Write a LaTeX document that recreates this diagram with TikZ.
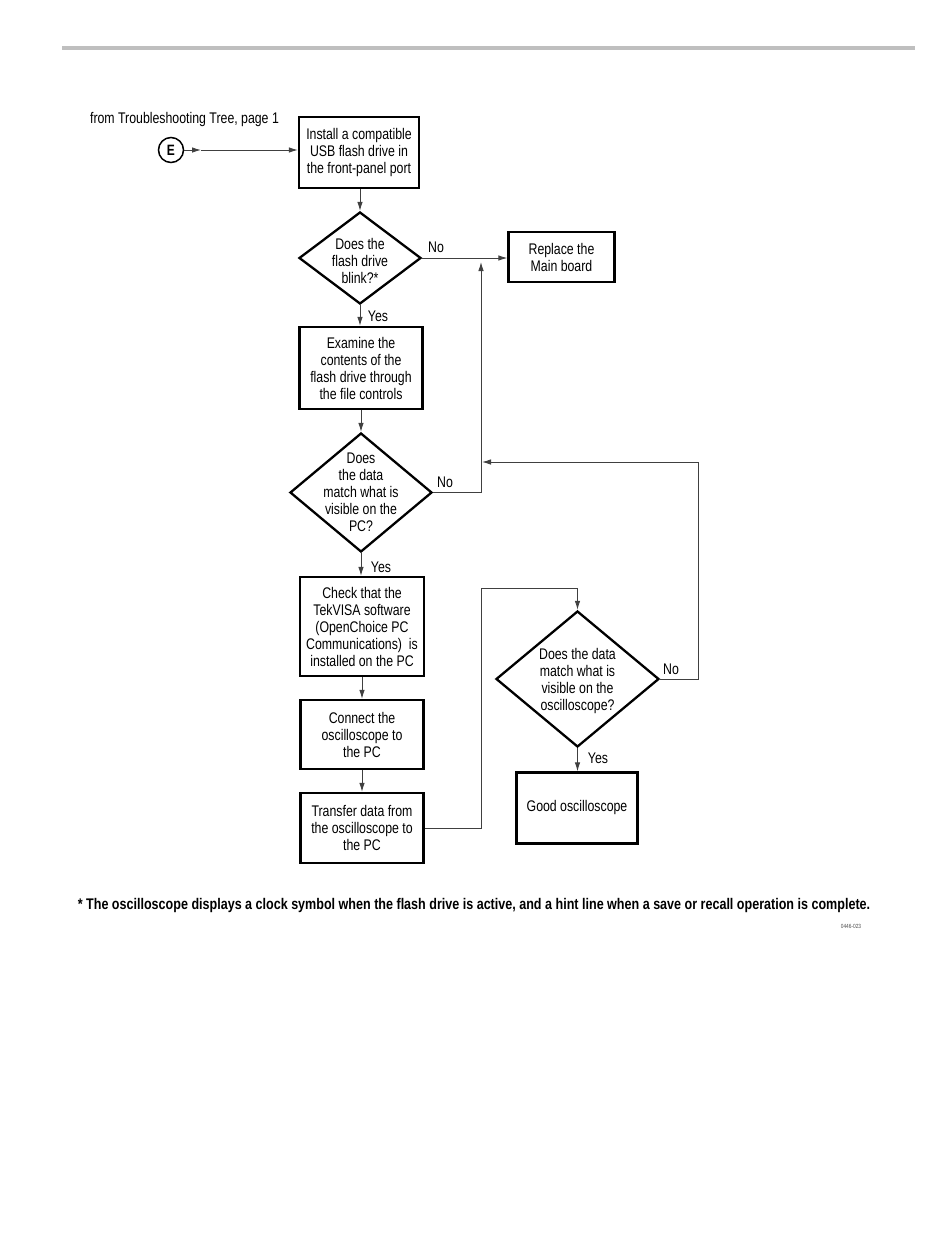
\documentclass[tikz,border=0pt]{standalone}
\usepackage{fontspec}
\setmainfont{Liberation Sans}[FakeStretch=0.8]
\newfontfamily\fnfont{Liberation Sans}[FakeStretch=0.815]
\usetikzlibrary{arrows.meta,shapes.geometric}
\begin{document}
\begin{tikzpicture}[x=1pt,y=-1pt,
  txt/.style={font=\fontsize{15.4}{17}\selectfont, align=center, inner sep=0pt},
  pbox/.style={draw=black, line width=2.3pt, minimum width=#1, inner sep=0pt, txt},
  dia/.style={draw=black, line width=2.3pt, diamond, inner sep=0pt},
  conn/.style={draw=black!75, line width=0.9pt},
  arr/.style={conn, -{Latex[length=9pt,width=5.5pt]}},
  lbl/.style={font=\fontsize{15.4}{17}\selectfont, inner sep=0pt}
]
\useasboundingbox (0,0) rectangle (950,1254);
\fill[black!25] (62,46) rectangle (915,49.5) coordinate (rulebr);

\node[lbl] (from) at (184.5,120) {from Troubleshooting Tree, page 1};
\node[circle, draw=black, line width=1.5pt, minimum size=25pt, inner sep=0pt,
      font=\fontsize{15}{15}\selectfont\bfseries] (E) at (171,150) {E};

\node[pbox=120pt, minimum height=71pt] (b1) at (359,152.5) {Install a compatible\\USB flash drive in\\the front-panel port};

\node[dia, minimum width=122pt, minimum height=92pt] (d1) at (360,258) {};
\node[txt] (d1t) at (360,261) {Does the\\flash drive\\blink?*};

\node[pbox=106pt, minimum height=50pt] (rep) at (561.5,257) {Replace the\\Main board};

\node[pbox=123pt, minimum height=82pt] (b2) at (361,368) {Examine the\\contents of the\\flash drive through\\the file controls};

\node[dia, minimum width=142pt, minimum height=119pt] (d2) at (361,492.5) {};
\node[txt] (d2t) at (361,492) {Does\\the data\\match what is\\visible on the\\PC?};

\node[pbox=124pt, minimum height=99pt] (b3) at (362,626.5) {Check that the\\TekVISA software\\(OpenChoice PC\\Communications)\ \ is\\installed on the PC};

\node[pbox=123pt, minimum height=69pt] (b4) at (362,734.5) {Connect the\\oscilloscope to\\the PC};

\node[pbox=123pt, minimum height=70pt] (b5) at (362,828) {Transfer data from\\the oscilloscope to\\the PC};

\node[dia, minimum width=163pt, minimum height=136pt] (d3) at (577.5,679) {};
\node[txt] (d3t) at (577.5,681) {Does the data\\match what is\\visible on the\\oscilloscope?};

\node[pbox=121pt, minimum height=71pt] (b6) at (577,808) {Good oscilloscope};

% labels
\node[lbl] (no1) at (436,247) {No};
\node[lbl] (yes1) at (378,316) {Yes};
\node[lbl] (no2) at (445,482) {No};
\node[lbl] (yes2) at (381,567) {Yes};
\node[lbl] (no3) at (671,669) {No};
\node[lbl] (yes3) at (598,758) {Yes};

% coordinates
\coordinate (ea) at (201,150);
\coordinate (up1) at (481,492.5);
\coordinate (up1t) at (481,262);
\coordinate (rc1) at (698,679);
\coordinate (rc2) at (698,462);
\coordinate (rc3) at (482,462);
\coordinate (t1) at (481,828);
\coordinate (t2) at (481,588);
\coordinate (t3) at (577.5,588);

% connectors
\draw[arr] (E.east) -- (ea);
\draw[arr] (ea) -- (ea -| b1.west);
\draw[arr] (b1.south -| d1.north) -- (d1.north);
\draw[arr] (d1.east) -- (d1.east -| rep.west);
\draw[arr] (d1.south) -- (d1.south |- b2.north);
\draw[arr] (b2.south) -- (d2.north);
\draw[conn] (d2.east) -- (up1);
\draw[arr] (up1) -- (up1t);
\draw[arr] (d2.south) -- (d2.south |- b3.north);
\draw[arr] (b3.south) -- (b4.north);
\draw[arr] (b4.south) -- (b5.north);
\draw[conn] (b5.east) -- (t1) -- (t2) -- (t3);
\draw[arr] (t3) -- (d3.north);
\draw[conn] (d3.east) -- (rc1) -- (rc2);
\draw[arr] (rc2) -- (rc3);
\draw[arr] (d3.south) -- (d3.south |- b6.north);

% footnote
\node[font=\fnfont\fontsize{15.4}{17}\selectfont\bfseries, inner sep=0pt] (fn) at (474,906) {* The oscilloscope displays a clock symbol when the flash drive is active, and a hint line when a save or recall operation is complete.};
\node[font=\fontsize{6}{6}\selectfont, text=black!70, inner sep=0pt] (code) at (851,926) {0446-023};
\end{tikzpicture}
\end{document}
